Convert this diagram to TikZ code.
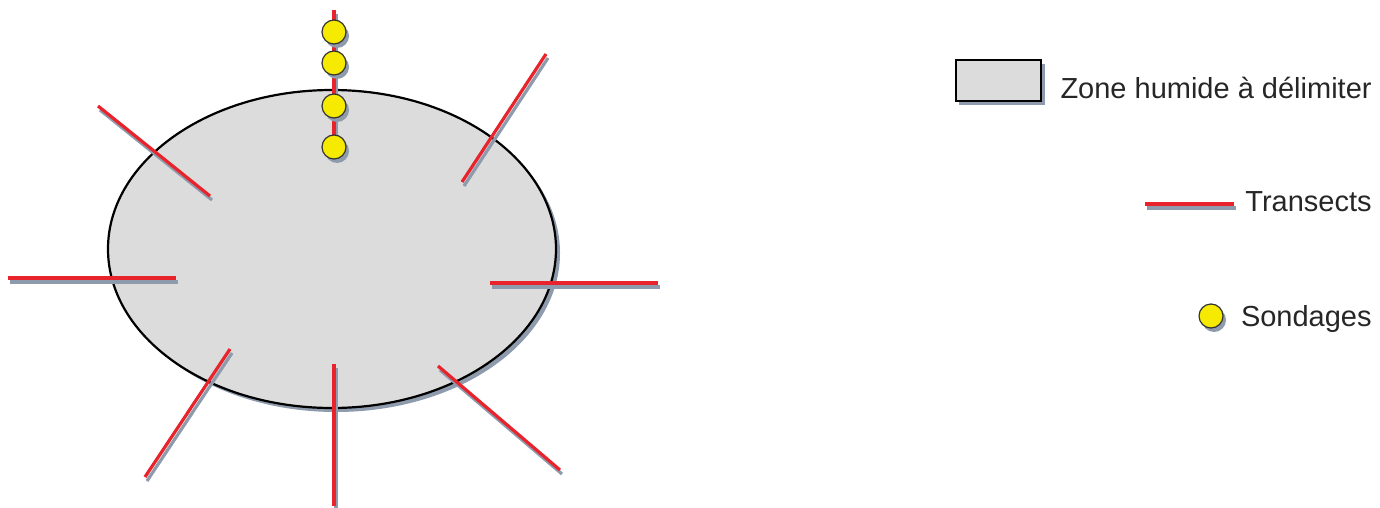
\documentclass[tikz,border=0pt]{standalone}
\usepackage{fontspec}
\setmainfont{Liberation Sans}
\usepackage{tikz}
\usetikzlibrary{positioning}

\definecolor{zonegray}{HTML}{DCDCDC}
\definecolor{shadowblue}{HTML}{8E9BAC}
\definecolor{transred}{HTML}{E8232B}
\definecolor{sondyellow}{HTML}{F5EA00}

% transect with its shadow
\newcommand{\transect}[2]{%
    \draw[tshadow] ([shift={(2,4)}]#1) -- ([shift={(2,4)}]#2);
    \draw[transect] (#1) -- (#2);
}
% sondage with its shadow
\newcommand{\sondage}[2]{%
    \fill[shadowblue] ([shift={(3,4)}]#2) circle (12);
    \node[sond] (#1) at (#2) {};
}

\begin{document}
\begin{tikzpicture}[
    x=0.5pt, y=-0.5pt,
    zone/.style={draw=black, line width=1.1pt, fill=zonegray},
    transect/.style={draw=transred, line width=1.6pt},
    tshadow/.style={draw=shadowblue, line width=1.6pt},
    sond/.style={
        circle,
        draw=black!80,
        line width=0.6pt,
        fill=sondyellow,
        minimum size=12pt,
        inner sep=0pt
    },
    legend/.style={anchor=east, inner sep=0pt, font=\fontsize{14.5}{17}\selectfont, text=black!85}
]
\useasboundingbox (0,0) rectangle (1380,508);

% wetland zone
\fill[shadowblue] (336,253) ellipse [x radius=224, y radius=159];
\draw[zone] (332,249) ellipse [x radius=224, y radius=159];

% transects
\transect{334,10}{334,146}
\transect{98,106}{210,196}
\transect{546,54}{462,182}
\transect{8,278}{176,278}
\transect{490,283}{658,283}
\transect{230,349}{145,477}
\transect{334,364}{334,506}
\transect{438,366}{560,470}

% sondages on the north transect
\sondage{s1}{334,32}
\sondage{s2}{334,63}
\sondage{s3}{334,106}
\sondage{s4}{334,147}

% legend
\fill[shadowblue] (959,64) rectangle (1045,105);
\draw[zone] (956,60) rectangle (1041,101);
\node[legend] (lzone) at (1372,88) {Zone humide à délimiter};

\coordinate (la) at (1145,204);
\coordinate (lb) at (1234,204);
\transect{la}{lb}
\node[legend] (ltrans) at (1372,202) {Transects};

\sondage{lsond}{1211,316}
\node[legend] (lsondtxt) at (1372,319) {Sondages};

\end{tikzpicture}
\end{document}
